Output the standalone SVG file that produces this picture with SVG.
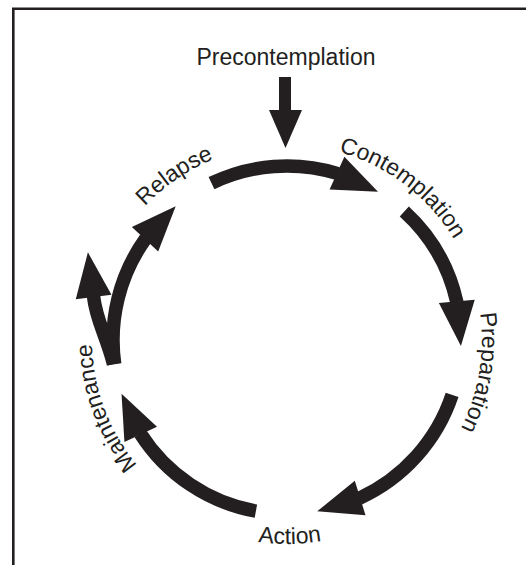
<svg xmlns="http://www.w3.org/2000/svg" xmlns:xlink="http://www.w3.org/1999/xlink" width="526" height="565" viewBox="0 0 526 565">
  <style>
    .lbl { font-family: "Liberation Sans", Arial, Helvetica, sans-serif; font-size: 23px; fill: #231f20; }
    .shaft { fill: none; stroke: #231f20; stroke-width: 13.5; stroke-linecap: butt; }
    .head { fill: #231f20; }
    .frame { fill: none; stroke: #231f20; stroke-width: 2.6; stroke-linejoin: miter; }
  </style>
  <defs>
    <polygon id="head" points="-1,-18 44,0 -1,18"/>
    <path id="pContemplation" d="M 181.4 176.1 A 195 195 0 0 1 473.3 397.7"/>
    <path id="pPreparation" d="M 383.0 170.3 A 195 195 0 0 1 322.5 531.7"/>
    <path id="pMaintenance" d="M 288.7 535.0 A 195 195 0 0 1 160.4 191.7"/>
    <path id="pRelapse" d="M 98.1 388.5 A 195 195 0 0 1 400.5 181.4"/>
    <path id="pAction" d="M 111.8 444.4 A 204 204 0 0 0 465.1 439.5"/>
  </defs>
  <rect width="526" height="565" fill="#ffffff"/>
  <path class="frame" d="M 13.3 565 V 8.7 H 526"/>

  <g id="precontemplation">
    <text class="lbl" x="286" y="65" text-anchor="middle">Precontemplation</text>
  </g>
  <g id="contemplation">
    <text class="lbl" text-anchor="middle"><textPath xlink:href="#pContemplation" href="#pContemplation" startOffset="50%">Contemplation</textPath></text>
  </g>
  <g id="preparation">
    <text class="lbl" text-anchor="middle"><textPath xlink:href="#pPreparation" href="#pPreparation" startOffset="50%">Preparation</textPath></text>
  </g>
  <g id="action">
    <text class="lbl" text-anchor="middle"><textPath xlink:href="#pAction" href="#pAction" startOffset="50%">Action</textPath></text>
  </g>
  <g id="maintenance">
    <text class="lbl" text-anchor="middle"><textPath xlink:href="#pMaintenance" href="#pMaintenance" startOffset="50%">Maintenance</textPath></text>
  </g>
  <g id="relapse">
    <text class="lbl" text-anchor="middle"><textPath xlink:href="#pRelapse" href="#pRelapse" startOffset="50%">Relapse</textPath></text>
  </g>

  <g id="connectors">
    <!-- Precontemplation -> cycle -->
    <rect class="head" x="279" y="77" width="12" height="35"/>
    <polygon class="head" points="269,110 302,110 285.5,148"/>
    <!-- Relapse -> Contemplation -->
    <path class="shaft" d="M 211.5 183.2 A 174 174 0 0 1 337.9 173.6"/>
    <use href="#head" xlink:href="#head" class="head" transform="translate(337.9 173.6) rotate(24.25)"/>
    <!-- Contemplation -> Preparation -->
    <path class="shaft" d="M 404.3 211.5 A 174 174 0 0 1 456.9 302.3"/>
    <use href="#head" xlink:href="#head" class="head" transform="translate(456.9 302.3) rotate(84.75)"/>
    <!-- Preparation -> Action -->
    <path class="shaft" d="M 452.1 394.9 A 174 174 0 0 1 359.2 498.3"/>
    <use href="#head" xlink:href="#head" class="head" transform="translate(359.2 498.3) rotate(162.75)"/>
    <!-- Action -> Maintenance -->
    <path class="shaft" d="M 255.9 511.2 A 174 174 0 0 1 140.3 433.5"/>
    <use href="#head" xlink:href="#head" class="head" transform="translate(140.3 433.5) rotate(244.75)"/>
    <!-- Maintenance -> Relapse -->
    <path class="shaft" d="M 114.7 364.2 A 174 174 0 0 1 145.7 238.5"/>
    <use href="#head" xlink:href="#head" class="head" transform="translate(145.7 238.5) rotate(312.95)"/>
    <!-- Maintenance -> exit (short branch) -->
    <path class="shaft" d="M 113.5 364 C 106 335, 96 320, 93.5 296"/>
    <use href="#head" xlink:href="#head" class="head" transform="translate(93.5 296) rotate(262.7)"/>
  </g>
</svg>
